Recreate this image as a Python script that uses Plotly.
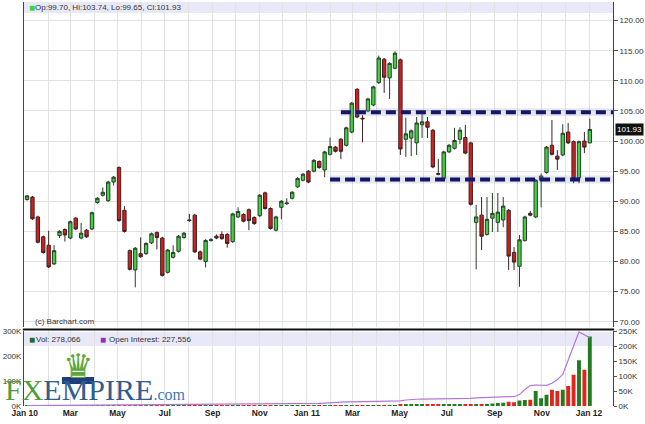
import pandas as pd
import plotly.graph_objects as go
from plotly.subplots import make_subplots

# ---------------- data ----------------
dates = pd.date_range("2010-01-04", periods=105, freq="7D")

opens = [90.3, 90.7, 87.4, 84.1, 82.7, 79.6, 84.3, 85.3, 83.9, 87.2,
         83.9, 85.2, 85.4, 89.8, 91.0, 90.1, 93.2, 95.6, 88.5, 81.8,
         78.6, 81.3, 81.3, 83.1, 84.8, 83.9, 78.2, 80.7, 81.7, 84.0,
         86.9, 87.7, 81.6, 80.0, 83.5, 84.2, 84.5, 84.5, 83.3, 87.4,
         87.8, 88.6, 87.3, 87.6, 91.4, 88.8, 85.2, 89.0, 89.6, 90.5,
         92.4, 93.5, 95.0, 95.0, 96.6, 95.2, 97.8, 99.0, 100.3, 99.3,
         101.5, 108.6, 103.8, 105.0, 106.0, 109.7, 113.6, 110.5, 112.1, 113.5,
         100.3, 100.5, 99.7, 102.7, 103.2, 101.8, 94.6, 93.8, 98.2, 98.8,
         100.3, 100.6, 99.7, 86.5, 87.7, 84.5, 87.2, 86.5, 86.9, 88.5,
         81.5, 79.2, 83.5, 88.0, 87.4, 93.5, 94.8, 99.3, 97.5, 97.7,
         101.5, 99.9, 93.9, 100.0, 99.70]
highs = [91.0, 90.9, 87.6, 84.3, 85.1, 82.7, 85.2, 85.5, 86.8, 87.4,
         86.4, 85.4, 88.3, 90.7, 92.3, 93.4, 94.2, 95.8, 89.2, 82.0,
         82.4, 84.0, 83.2, 84.8, 85.0, 84.1, 82.1, 82.7, 84.4, 84.9,
         87.9, 87.9, 81.8, 83.7, 83.9, 84.5, 85.0, 84.7, 88.1, 89.0,
         88.0, 88.8, 87.5, 91.2, 91.6, 89.0, 87.6, 90.2, 90.5, 91.7,
         94.0, 94.7, 95.2, 97.0, 96.8, 98.4, 100.6, 99.2, 100.5, 102.4,
         106.5, 108.8, 104.3, 107.2, 109.2, 114.2, 113.8, 113.1, 114.9, 113.7,
         103.9, 101.9, 104.0, 105.0, 104.0, 102.0, 97.0, 98.4, 99.5, 102.2,
         102.3, 102.7, 99.9, 89.4, 90.7, 90.7, 91.4, 91.4, 90.7, 88.7,
         82.4, 84.4, 87.6, 88.4, 93.7, 94.6, 99.2, 103.5, 98.5, 102.8,
         103.0, 100.1, 100.1, 101.5, 103.74]
lows = [90.1, 86.9, 83.0, 81.3, 78.9, 79.4, 83.9, 83.3, 83.7, 85.2,
        83.7, 83.9, 85.2, 89.6, 90.8, 89.9, 92.6, 86.6, 84.8, 78.5,
        75.7, 80.6, 81.1, 82.9, 82.0, 77.5, 78.0, 80.5, 81.5, 83.8,
        86.6, 81.4, 80.2, 79.0, 83.3, 83.7, 83.6, 82.3, 83.1, 87.2,
        86.5, 85.2, 86.1, 87.4, 88.6, 85.3, 85.0, 87.0, 89.4, 90.3,
        92.2, 93.3, 93.0, 94.8, 95.4, 94.0, 97.6, 98.1, 97.0, 99.1,
        101.3, 103.8, 99.8, 104.8, 105.8, 109.5, 108.0, 107.0, 111.9, 97.7,
        97.4, 97.5, 97.7, 100.5, 100.5, 95.5, 94.3, 93.6, 98.0, 98.6,
        99.5, 97.8, 89.3, 78.7, 81.9, 84.3, 84.9, 84.9, 85.7, 78.6,
        78.6, 75.8, 83.3, 87.5, 87.2, 89.0, 94.6, 97.6, 95.2, 97.5,
        99.5, 93.0, 93.0, 98.0, 99.65]
closes = [90.9, 87.1, 83.2, 81.5, 79.1, 81.8, 85.0, 84.4, 86.6, 85.4,
          84.7, 84.1, 88.1, 90.5, 91.5, 93.2, 94.0, 86.8, 85.0, 78.7,
          82.2, 80.8, 83.0, 84.6, 84.0, 77.7, 81.9, 81.5, 84.2, 84.7,
          86.8, 81.6, 80.4, 83.5, 83.6, 83.9, 83.8, 83.0, 87.9, 88.3,
          86.7, 86.8, 86.3, 91.0, 88.8, 85.5, 87.4, 90.0, 89.7, 91.5,
          93.8, 94.5, 93.2, 96.8, 95.6, 98.2, 99.1, 98.3, 98.3, 102.2,
          106.3, 104.0, 103.7, 107.0, 109.0, 113.8, 110.6, 112.9, 114.6, 98.7,
          101.2, 101.7, 103.0, 103.2, 102.3, 95.7, 94.5, 98.2, 99.3, 100.1,
          101.8, 98.0, 89.5, 87.4, 84.2, 87.0, 88.0, 88.2, 89.2, 80.9,
          79.9, 83.6, 87.4, 87.7, 93.5, 94.2, 99.0, 97.8, 97.0, 101.3,
          99.7, 93.8, 99.9, 99.0, 101.93]

# volume and open interest, in thousands of contracts
volume_k = [0.3, 0.3, 0.3, 0.3, 0.3, 0.3, 0.3, 0.3, 0.3, 0.3,
            0.3, 0.3, 0.3, 0.3, 0.3, 0.3, 0.3, 0.3, 0.3, 0.3,
            0.4, 0.4, 0.4, 0.4, 0.4, 0.4, 0.4, 0.4, 0.4, 0.4,
            0.5, 0.5, 0.5, 0.5, 0.5, 0.5, 0.5, 0.5, 0.5, 0.5,
            0.6, 0.6, 0.6, 0.6, 0.6, 0.7, 0.7, 0.7, 0.8, 0.8,
            0.9, 1.0, 1.5, 1.8, 2.0, 2.2, 2.5, 2.3, 2.6, 2.8,
            3.0, 3.2, 3.0, 3.5, 3.3, 3.6, 3.8, 4.0, 3.7, 4.2,
            4.5, 4.8, 4.6, 5.0, 5.2, 4.9, 5.5, 5.8, 6.0, 6.3,
            6.8, 7.0, 7.5, 8.0, 8.0, 8.5, 10.0, 12.0, 13.0, 17.0,
            15.0, 22.0, 24.0, 25.0, 60.0, 31.0, 45.0, 65.0, 60.0, 65.0,
            80.0, 125.0, 183.0, 145.0, 278.066]
open_interest_k = [1.0, 1.1, 1.2, 1.3, 1.4, 1.5, 1.6, 1.7, 1.8, 1.9,
                   2.0, 2.1, 2.2, 2.3, 2.4, 2.5, 2.6, 2.8, 3.0, 3.1,
                   3.2, 3.3, 3.4, 3.5, 3.6, 3.7, 3.8, 3.9, 4.0, 4.1,
                   4.2, 4.3, 4.5, 5.0, 5.1, 5.2, 5.3, 5.4, 5.5, 5.6,
                   5.7, 5.8, 5.9, 6.0, 6.2, 6.4, 6.5, 6.7, 7.0, 7.1,
                   7.2, 7.4, 7.6, 8.0, 8.5, 9.5, 11.0, 12.5, 13.0, 13.5,
                   14.0, 14.3, 14.6, 15.0, 15.3, 15.6, 16.0, 16.3, 16.6, 17.0,
                   20.0, 22.0, 22.5, 23.0, 23.2, 23.4, 23.6, 23.8, 24.0, 23.5,
                   23.0, 24.0, 25.5, 27.0, 28.0, 29.0, 29.5, 30.0, 30.5, 31.0,
                   31.0, 38.0, 55.0, 68.0, 70.0, 70.0, 69.0, 76.0, 88.0, 105.0,
                   150.0, 200.0, 247.0, 236.0, 227.556]

levels = [104.8, 93.6]
level_starts = ["2011-02-14", "2011-01-31"]

tick_dates = ["2010-01-01", "2010-03-01", "2010-05-01", "2010-07-01", "2010-09-01",
              "2010-11-01", "2011-01-01", "2011-03-01", "2011-05-01", "2011-07-01",
              "2011-09-01", "2011-11-01", "2012-01-01"]
tick_labels = ["Jan 10", "Mar", "May", "Jul", "Sep", "Nov", "Jan 11", "Mar",
               "May", "Jul", "Sep", "Nov", "Jan 12"]
price_ticks = [70, 75, 80, 85, 90, 95, 100, 105, 110, 115, 120]
vol_ticks = [0, 100, 200, 300]
oi_ticks = [0, 50, 100, 150, 200, 250]

# ---------------- styling ----------------
FONT = "Liberation Sans"
GREEN = "#3fd43f"
RED = "#d21e1e"
GRID = "#e2e2e2"
TXT = "#333333"

W, H = 645, 424
L, R, T, B = 24, 32, 2, 18
plot_h = H - T - B
def py(y_px):
    return (H - B - y_px) / plot_h
def px(x_px):
    return (x_px - L) / (W - L - R)

fig = make_subplots(rows=2, cols=1, shared_xaxes=True,
                    specs=[[{}], [{"secondary_y": True}]])

fig.add_trace(go.Candlestick(
    x=dates, open=opens, high=highs, low=lows, close=closes,
    increasing=dict(fillcolor=GREEN, line=dict(color="#2b3b2b", width=1)),
    decreasing=dict(fillcolor=RED, line=dict(color="#3b2222", width=1)),
    whiskerwidth=0, showlegend=False, hoverinfo="skip"), row=1, col=1)

vol_colors = ["#1f7d1f" if c >= o else "#e3241e" for o, c in zip(opens, closes)]
fig.add_trace(go.Bar(x=dates, y=volume_k, marker=dict(color=vol_colors, line=dict(width=0)),
                     showlegend=False, hoverinfo="skip"),
              row=2, col=1, secondary_y=False)
fig.add_trace(go.Scatter(x=dates, y=open_interest_k, mode="lines",
                         line=dict(color="#b277d6", width=1.2),
                         showlegend=False, hoverinfo="skip"),
              row=2, col=1, secondary_y=True)

# support / resistance dashed levels
for lv, st in zip(levels, level_starts):
    fig.add_shape(type="line", xref="x", yref="y", x0=st, x1="2012-02-01", y0=lv, y1=lv,
                  line=dict(color="rgba(120,120,170,0.18)", width=8))
    fig.add_shape(type="line", xref="x", yref="y", x0=st, x1="2012-02-01", y0=lv, y1=lv,
                  line=dict(color="#15156b", width=4, dash="10px,5px"))

# lavender header strips
fig.add_shape(type="rect", xref="paper", yref="paper", x0=0, x1=1, y0=py(13), y1=py(2),
              fillcolor="#e8e8f8", line=dict(width=0), layer="below")
fig.add_shape(type="rect", xref="paper", yref="paper", x0=0, x1=1, y0=py(346), y1=py(332),
              fillcolor="#e8e8f8", line=dict(width=0), layer="below")
# separator between panels
fig.add_shape(type="line", xref="paper", yref="paper", x0=-0.002, x1=1.002,
              y0=py(329.5), y1=py(329.5), line=dict(color="#111111", width=2))

xrange = ["2009-12-31 02:00", "2012-02-01"]
xcommon = dict(range=xrange, type="date", domain=[0, 1], tickvals=tick_dates, ticktext=tick_labels,
               showgrid=True, gridcolor=GRID, gridwidth=1,
               minor=dict(dtick="M1", tick0="2010-01-01", showgrid=True, gridcolor=GRID, gridwidth=1),
               showline=False, zeroline=False, ticks="",
               tickfont=dict(family=FONT, size=8.5, color="#222222", weight="bold"))
fig.update_layout(
    width=W, height=H, margin=dict(l=L, r=R, t=T, b=B, autoexpand=False),
    paper_bgcolor="white", plot_bgcolor="white",
    boxgap=0.12, bargap=0.28,
    xaxis=dict(xcommon, showticklabels=False, rangeslider=dict(visible=False)),
    xaxis2=dict(xcommon, showticklabels=True),
    yaxis=dict(domain=[py(327), 1], range=[69.12, 123.1], side="right",
               tickvals=price_ticks, ticktext=[f"{v:.2f}" for v in price_ticks],
               ticks="outside", ticklen=4, tickcolor="#555",
               showgrid=True, gridcolor=GRID, showline=True, linecolor="#444",
               mirror=True, zeroline=False,
               tickfont=dict(family=FONT, size=8, color=TXT)),
    yaxis2=dict(domain=[0, py(331)], range=[0, 300], side="left",
                tickvals=vol_ticks, ticktext=[f"{v}K" for v in vol_ticks],
                showgrid=False, showline=True, linecolor="#444", zeroline=False,
                ticks="", tickfont=dict(family=FONT, size=8, color=TXT)),
    yaxis3=dict(range=[0, 250], side="right", overlaying="y2", anchor="x2",
                tickvals=oi_ticks, ticktext=[f"{v}K" for v in oi_ticks],
                ticks="outside", ticklen=3, tickcolor="#555",
                showgrid=False, showline=True, linecolor="#444", zeroline=False,
                tickfont=dict(family=FONT, size=8, color=TXT)),
    font=dict(family=FONT, color=TXT),
)

last = -1
anns = [
    dict(text="■", x=px(27), y=py(7.5), font=dict(size=10, color=GREEN)),
    dict(text=f"Op:{opens[last]:.2f}, Hi:{highs[last]:.2f}, Lo:{lows[last]:.2f}, Cl:{closes[last]:.2f}",
         x=px(33), y=py(7.5), font=dict(size=8, color=TXT)),
    dict(text="■", x=px(27), y=py(339), font=dict(size=10, color="#1f6b1f")),
    dict(text=f"Vol: {volume_k[last]*1000:,.0f}", x=px(34), y=py(339), font=dict(size=8, color=TXT)),
    dict(text="■", x=px(98), y=py(339), font=dict(size=10, color="#8a2fc8")),
    dict(text=f"Open Interest: {open_interest_k[last]*1000:,.0f}", x=px(107), y=py(339),
         font=dict(size=8, color=TXT)),
    dict(text="(c) Barchart.com", x=px(33), y=py(321), font=dict(size=8, color=TXT)),
]
for a in anns:
    fig.add_annotation(xref="paper", yref="paper", xanchor="left", yanchor="middle",
                       showarrow=False, **a)

# last price flag on the right axis
fig.add_annotation(xref="paper", yref="y", x=1.004, y=closes[last], xanchor="left",
                   yanchor="middle", text=f"{closes[last]:.2f}", showarrow=False,
                   bgcolor="#111111", font=dict(family=FONT, size=8, color="white"),
                   borderpad=1)

# FXEMPIRE logo
fig.add_annotation(xref="paper", yref="paper", x=px(78), y=py(366), xanchor="center",
                   yanchor="middle", showarrow=False, text="♛",
                   font=dict(family="DejaVu Sans", size=34, color="#5aa83a"))
fig.add_shape(type="rect", xref="paper", yref="paper", x0=px(62), x1=px(94),
              y0=py(384), y1=py(377), fillcolor="#1f3f7a", line=dict(width=0))
fig.add_annotation(xref="paper", yref="paper", x=px(3), y=py(408), xanchor="left",
                   yanchor="bottom", showarrow=False,
                   text="<span style='color:#4d9e3a'>FX</span><span style='color:#2f5d8c'>EMPIRE</span>"
                        "<span style='color:#3f78b5;font-size:16px'>.com</span>",
                   font=dict(family="Liberation Serif", size=30, color="#2f5d8c"))

fig.write_html("out.html", config={"displayModeBar": False},
               post_script="document.body.style.margin='0';document.body.style.overflow='hidden';")
